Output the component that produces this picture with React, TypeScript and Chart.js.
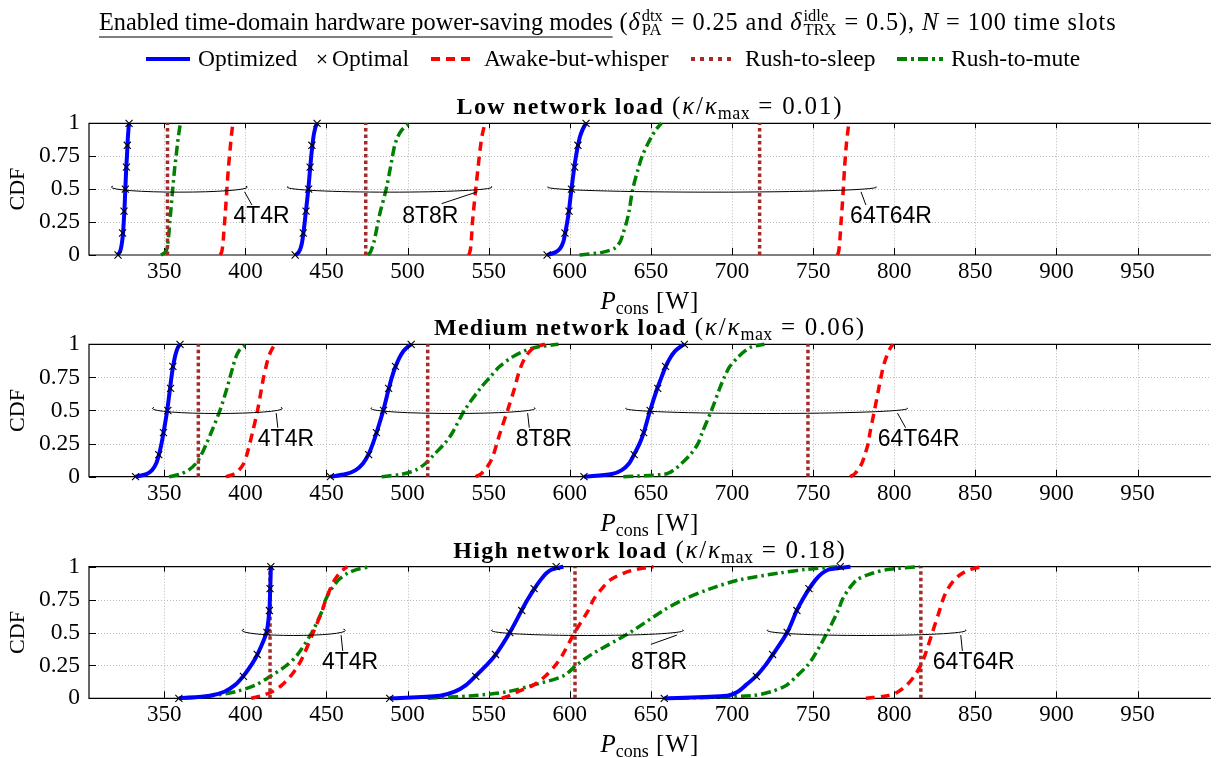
import React, { useEffect, useRef } from "react";
import { Chart, registerables } from "chart.js";

Chart.register(...registerables);

const SERIF = '"Liberation Serif", "Times New Roman", serif';
const SANS = '"Liberation Sans", Arial, sans-serif';

// ---------------- data ----------------
const X_TICKS = [350, 400, 450, 500, 550, 600, 650, 700, 750, 800, 850, 900, 950];
const Y_TICKS = [0, 0.25, 0.5, 0.75, 1];
const X_MIN = 303.6;
const X_MAX = 995.2;
const CONFIGS = ["4T4R", "8T8R", "64T64R"];
const CDF_LEVELS = [0, 0.02, 0.05, 0.1, 0.17, 0.25, 0.33, 0.5, 0.67, 0.75, 0.83, 0.9, 0.95, 0.98, 1];
const OPTIMAL_LEVELS = [0, 0.167, 0.333, 0.5, 0.667, 0.833, 1];

// Low network load
const LOW_4T4R_OPTIMIZED = [321, 322.5, 323.3, 324, 324.6, 325, 325.4, 326, 326.6, 327, 327.3, 327.6, 327.9, 328.1, 328.3];
const LOW_4T4R_OPTIMAL = [321.5, 324.3, 325.2, 326, 326.7, 327.2, 328.3];
const LOW_4T4R_WHISPER = [384.5, 385.3, 385.8, 386.3, 386.7, 387.2, 387.7, 388.6, 389.6, 390.2, 390.8, 391.3, 391.8, 392.1, 392.4];
const LOW_4T4R_MUTE = [348, 350.5, 351.7, 352.3, 352.9, 353.4, 354, 355.2, 356.5, 357.3, 358, 358.7, 359.3, 359.7, 360];
const LOW_8T8R_OPTIMIZED = [431, 432.8, 434, 435, 435.8, 436.6, 437.3, 438.8, 440, 440.6, 441.3, 442, 442.8, 443.5, 444.2];
const LOW_8T8R_OPTIMAL = [430.7, 435.7, 437.4, 439, 439.9, 441, 444.2];
const LOW_8T8R_WHISPER = [537.7, 538.3, 538.8, 539.2, 539.6, 540, 540.6, 542, 543.5, 544.2, 545, 545.8, 546.7, 547.3, 547.8];
const LOW_8T8R_MUTE = [475.5, 477, 478, 479.3, 480.5, 481.8, 483.2, 486.8, 489.5, 490.7, 492, 494, 496.5, 499, 501.5];
const LOW_64T64R_OPTIMIZED = [586, 591, 594, 596, 597.2, 598.4, 599.4, 601, 602.8, 603.8, 605, 606.3, 607.8, 609, 610];
const LOW_64T64R_OPTIMAL = [586, 597, 599.5, 601, 603, 605, 610];
const LOW_64T64R_WHISPER = [765, 765.6, 766, 766.4, 766.8, 767.2, 767.7, 768.6, 769.4, 769.9, 770.4, 771, 771.5, 771.8, 772];
const LOW_64T64R_MUTE = [606, 620, 627.5, 631, 633, 635, 636.5, 638.8, 642.5, 644.6, 647.5, 650.5, 653, 655, 656.5];
const LOW_SLEEP = [352, 474.2, 717];

// Medium network load
const MED_4T4R_OPTIMIZED = [332.3, 339, 342.5, 345, 346.8, 348.3, 349.5, 351.8, 353.6, 354.4, 355.4, 356.5, 357.6, 358.6, 359.7];
const MED_4T4R_OPTIMAL = [332.3, 346.6, 349.5, 352.2, 353.9, 355.3, 359.7];
const MED_4T4R_WHISPER = [388, 393, 396, 399, 401, 402.7, 404.3, 407.5, 410, 411.2, 412.7, 414.2, 415.8, 417.2, 418.4];
const MED_4T4R_MUTE = [353, 360, 365, 369.5, 373, 376, 378.8, 384.3, 388.7, 390.5, 392.3, 394, 396, 398.5, 401.5];
const MED_8T8R_OPTIMIZED = [452.4, 462, 468, 472.5, 476, 478.6, 480.8, 485, 488.5, 490.3, 492.5, 495, 497.5, 500, 502.2];
const MED_8T8R_OPTIMAL = [452.4, 476, 480.8, 485.2, 488.3, 492.5, 502.2];
const MED_8T8R_WHISPER = [542, 545, 547.5, 550.5, 553, 555, 557, 561.6, 566, 567.7, 569.8, 572.5, 575.5, 579, 584.7];
const MED_8T8R_MUTE = [484, 497, 505, 511, 516.5, 522.8, 527.5, 535, 545, 550.7, 556.5, 564, 572, 580, 593];
const MED_64T64R_OPTIMIZED = [608.7, 626, 632, 636.5, 639.7, 643, 645.5, 649.5, 654, 656.5, 659, 662, 665, 668, 670.6];
const MED_64T64R_OPTIMAL = [608.7, 639.7, 645.5, 649.5, 654.2, 659, 670.6];
const MED_64T64R_WHISPER = [772.8, 775.5, 777.5, 780, 782, 783.9, 785, 787.8, 790.5, 791.8, 793.2, 795, 796.7, 798, 799.2];
const MED_64T64R_MUTE = [633, 659, 664, 668.8, 674.5, 679, 681.5, 687.3, 692.5, 695.2, 698.5, 703.5, 708, 712, 720];
const MED_SLEEP = [371, 512.4, 746.8];

// High network load
const HIGH_4T4R_OPTIMIZED = [359, 378, 387, 393.5, 398.8, 403.5, 407.3, 413, 414.8, 415.1, 415.3, 415.5, 415.6, 415.7, 415.8];
const HIGH_4T4R_OPTIMAL = [359, 398.8, 407.3, 413.3, 414.8, 415.2, 415.7];
const HIGH_4T4R_WHISPER = [403.6, 410, 416.5, 422.5, 428, 432.6, 436, 441.8, 447.5, 449.5, 452.3, 455, 458, 460.5, 462.8];
const HIGH_4T4R_MUTE = [362.6, 379.5, 394, 406, 415.7, 425.4, 432, 441, 447.5, 449.5, 453, 457.5, 463, 469, 477.3];
const HIGH_8T8R_OPTIMIZED = [489, 520, 529, 536, 542, 548.5, 554.2, 563, 570.4, 574, 578, 582, 585.5, 589, 596];
const HIGH_8T8R_OPTIMAL = [489, 542, 554.2, 563, 570.4, 578, 591.6];
const HIGH_8T8R_WHISPER = [558, 563, 568, 577.5, 585, 591, 595.5, 603, 611.5, 614.6, 619.5, 625, 633, 641, 651.6];
const HIGH_8T8R_MUTE = [512.4, 540, 561.6, 577.3, 596, 604, 613, 637, 658, 670, 686, 704.5, 728.3, 746, 765];
const HIGH_64T64R_OPTIMIZED = [658.2, 697, 703.5, 708.5, 715, 720.5, 725, 734, 740, 743.5, 747.4, 751.5, 755.5, 760, 773];
const HIGH_64T64R_OPTIMAL = [658.2, 715, 725, 734, 740, 747.4, 766.7];
const HIGH_64T64R_WHISPER = [782.5, 795.8, 802.4, 807.7, 812.5, 816.3, 819, 823.5, 828, 830, 833, 837, 842, 847, 854];
const HIGH_64T64R_MUTE = [667.5, 712, 724, 733.6, 740, 746.5, 751, 758.7, 765.5, 768, 772, 777, 786.5, 797, 815.6];
const HIGH_SLEEP = [415.2, 603.2, 816.4];

const LOAD_NAMES = ["Low network load", "Medium network load", "High network load"];
const LOAD_KAPPA = ["0.01", "0.06", "0.18"];

// annotation rings (value coordinates)
interface Ring { span: [number, number]; leader: [number, number, number, number]; at: [number, number] }
const LOW_RINGS: Ring[] = [
  { span: [317.4, 401.2], leader: [399.5, 0.48, 404, 0.38], at: [410, 0.29] },
  { span: [425.8, 552], leader: [543, 0.48, 521, 0.39], at: [514, 0.29] },
  { span: [586.3, 789], leader: [779.5, 0.48, 782.5, 0.38], at: [798, 0.29] },
];
const MED_RINGS: Ring[] = [
  { span: [342.7, 422.8], leader: [419, 0.48, 420, 0.37], at: [425, 0.28] },
  { span: [477.4, 578.6], leader: [574, 0.48, 575, 0.37], at: [584, 0.28] },
  { span: [634.4, 808.2], leader: [802, 0.48, 807, 0.37], at: [815, 0.28] },
];
const HIGH_RINGS: Ring[] = [
  { span: [398, 461.6], leader: [459, 0.48, 460, 0.36], at: [464.5, 0.27] },
  { span: [551.7, 670], leader: [666, 0.48, 650, 0.41], at: [655, 0.27] },
  { span: [721.7, 844.2], leader: [841, 0.48, 842, 0.36], at: [849, 0.27] },
];

// ---------------- styles / layout ----------------
const BLUE = "#0000ff";
const RED = "#ff0000";
const BROWN = "#a52a2a";
const GREEN = "#008000";
const W = 1217;

interface Group { optimized: number[]; optimal: number[]; whisper: number[]; sleep: number; mute: number[] }
interface Panel { groups: Group[]; rings: Ring[] }

const PANELS: Panel[] = [
  {
    groups: [
      { optimized: LOW_4T4R_OPTIMIZED, optimal: LOW_4T4R_OPTIMAL, whisper: LOW_4T4R_WHISPER, sleep: LOW_SLEEP[0], mute: LOW_4T4R_MUTE },
      { optimized: LOW_8T8R_OPTIMIZED, optimal: LOW_8T8R_OPTIMAL, whisper: LOW_8T8R_WHISPER, sleep: LOW_SLEEP[1], mute: LOW_8T8R_MUTE },
      { optimized: LOW_64T64R_OPTIMIZED, optimal: LOW_64T64R_OPTIMAL, whisper: LOW_64T64R_WHISPER, sleep: LOW_SLEEP[2], mute: LOW_64T64R_MUTE },
    ],
    rings: LOW_RINGS,
  },
  {
    groups: [
      { optimized: MED_4T4R_OPTIMIZED, optimal: MED_4T4R_OPTIMAL, whisper: MED_4T4R_WHISPER, sleep: MED_SLEEP[0], mute: MED_4T4R_MUTE },
      { optimized: MED_8T8R_OPTIMIZED, optimal: MED_8T8R_OPTIMAL, whisper: MED_8T8R_WHISPER, sleep: MED_SLEEP[1], mute: MED_8T8R_MUTE },
      { optimized: MED_64T64R_OPTIMIZED, optimal: MED_64T64R_OPTIMAL, whisper: MED_64T64R_WHISPER, sleep: MED_SLEEP[2], mute: MED_64T64R_MUTE },
    ],
    rings: MED_RINGS,
  },
  {
    groups: [
      { optimized: HIGH_4T4R_OPTIMIZED, optimal: HIGH_4T4R_OPTIMAL, whisper: HIGH_4T4R_WHISPER, sleep: HIGH_SLEEP[0], mute: HIGH_4T4R_MUTE },
      { optimized: HIGH_8T8R_OPTIMIZED, optimal: HIGH_8T8R_OPTIMAL, whisper: HIGH_8T8R_WHISPER, sleep: HIGH_SLEEP[1], mute: HIGH_8T8R_MUTE },
      { optimized: HIGH_64T64R_OPTIMIZED, optimal: HIGH_64T64R_OPTIMAL, whisper: HIGH_64T64R_WHISPER, sleep: HIGH_SLEEP[2], mute: HIGH_64T64R_MUTE },
    ],
    rings: HIGH_RINGS,
  },
];

// canvases overlap (transparent), so text below each plot is never cut
const LAYOUT = [
  { top: 0, height: 332, areaTop: 123.3, axisHeight: 77 },
  { top: 312, height: 244, areaTop: 32.3, axisHeight: 79.3 },
  { top: 536, height: 222, areaTop: 30.7, axisHeight: 59.7 },
];

// ---------------- text helpers ----------------
type Seg = { t?: string; font: string; dy?: number; ls?: number; sup?: string; sub?: string; underline?: boolean };

function setLS(ctx: any, v: number) {
  if ("letterSpacing" in ctx) ctx.letterSpacing = v + "px";
}
function segW(ctx: CanvasRenderingContext2D, s: Seg) {
  ctx.font = s.font;
  setLS(ctx, s.ls || 0);
  if (s.sup !== undefined) return Math.max(ctx.measureText(s.sup).width, ctx.measureText(s.sub || "").width) + 2;
  return ctx.measureText(s.t || "").width;
}
function drawSegs(ctx: CanvasRenderingContext2D, segs: Seg[], x: number, y: number, align: "left" | "center") {
  const ws = segs.map((s) => segW(ctx, s));
  const total = ws.reduce((a, b) => a + b, 0);
  let cx = align === "center" ? x - total / 2 : x;
  ctx.textAlign = "left";
  ctx.textBaseline = "alphabetic";
  ctx.fillStyle = "#000";
  segs.forEach((s, i) => {
    ctx.font = s.font;
    setLS(ctx, s.ls || 0);
    if (s.sup !== undefined) {
      ctx.fillText(s.sup, cx + 1, y - 9);
      ctx.fillText(s.sub || "", cx + 1, y + 5);
    } else {
      ctx.fillText(s.t || "", cx, y + (s.dy || 0));
    }
    if (s.underline) {
      ctx.save();
      ctx.strokeStyle = "#000";
      ctx.lineWidth = 1.2;
      ctx.beginPath();
      ctx.moveTo(cx, y + 7);
      ctx.lineTo(cx + ws[i], y + 7);
      ctx.stroke();
      ctx.restore();
    }
    cx += ws[i];
  });
  setLS(ctx, 0);
}

const EQ = " = ";

function drawHeader(ctx: CanvasRenderingContext2D) {
  const R = `24.3px ${SERIF}`;
  const I = `italic 24.3px ${SERIF}`;
  const S = `16.5px ${SERIF}`;
  const L = 0.9;
  drawSegs(
    ctx,
    [
      { t: "Enabled time-domain hardware power-saving modes", font: R, underline: true },
      { t: " (", font: R, ls: L },
      { t: "δ", font: I, ls: L },
      { sup: "dtx", sub: "PA", font: S },
      { t: EQ + "0.25 and ", font: R, ls: L },
      { t: "δ", font: I, ls: L },
      { sup: "idle", sub: "TRX", font: S },
      { t: EQ + "0.5), ", font: R, ls: L },
      { t: "N", font: I, ls: L },
      { t: EQ + "100 time slots", font: R, ls: L },
    ],
    99,
    30,
    "left"
  );
  // legend
  const LF = `23.5px ${SERIF}`;
  const ly = 59;
  const base = 66;
  ctx.save();
  ctx.lineCap = "butt";
  const sample = (x0: number, x1: number, color: string, dash: number[], w: number) => {
    ctx.strokeStyle = color;
    ctx.lineWidth = w;
    ctx.setLineDash(dash);
    ctx.beginPath();
    ctx.moveTo(x0, ly);
    ctx.lineTo(x1, ly);
    ctx.stroke();
    ctx.setLineDash([]);
  };
  sample(146, 190, BLUE, [], 4);
  drawSegs(ctx, [{ t: "Optimized", font: LF }], 198, base, "left");
  ctx.strokeStyle = "#000";
  ctx.lineWidth = 1.1;
  ctx.beginPath();
  ctx.moveTo(318, ly - 4);
  ctx.lineTo(326, ly + 4);
  ctx.moveTo(326, ly - 4);
  ctx.lineTo(318, ly + 4);
  ctx.stroke();
  drawSegs(ctx, [{ t: "Optimal", font: LF }], 332, base, "left");
  sample(431, 471, RED, [9, 6], 4);
  drawSegs(ctx, [{ t: "Awake-but-whisper", font: LF }], 484, base, "left");
  sample(691, 735, BROWN, [4, 5], 4);
  drawSegs(ctx, [{ t: "Rush-to-sleep", font: LF }], 745, base, "left");
  sample(897, 943, GREEN, [10, 4, 3, 4], 4);
  drawSegs(ctx, [{ t: "Rush-to-mute", font: LF }], 951, base, "left");
  ctx.restore();
}

function makeDecor(idx: number) {
  const panel = PANELS[idx];
  return {
    id: "decor" + idx,
    beforeDatasetsDraw(chart: any) {
      const { ctx, chartArea: a, scales } = chart;
      const x = scales.x;
      const y = scales.y;
      ctx.save();
      // dotted grid
      ctx.strokeStyle = "#b8b8b8";
      ctx.lineWidth = 1;
      ctx.setLineDash([1, 2]);
      ctx.beginPath();
      for (const t of X_TICKS) {
        const px = Math.round(x.getPixelForValue(t)) + 0.5;
        ctx.moveTo(px, a.top);
        ctx.lineTo(px, a.bottom);
      }
      for (const t of Y_TICKS) {
        if (t === 0 || t === 1) continue;
        const py = Math.round(y.getPixelForValue(t)) + 0.5;
        ctx.moveTo(a.left, py);
        ctx.lineTo(a.right, py);
      }
      ctx.stroke();
      ctx.setLineDash([]);
      // frame
      ctx.strokeStyle = "#000";
      ctx.lineWidth = 1.2;
      ctx.beginPath();
      ctx.moveTo(a.right, a.top);
      ctx.lineTo(a.left, a.top);
      ctx.lineTo(a.left, a.bottom);
      ctx.lineTo(a.right, a.bottom);
      ctx.stroke();
      // tick marks
      ctx.lineWidth = 1;
      ctx.beginPath();
      for (const t of X_TICKS) {
        const px = Math.round(x.getPixelForValue(t)) + 0.5;
        ctx.moveTo(px, a.bottom);
        ctx.lineTo(px, a.bottom - 7);
        ctx.moveTo(px, a.top);
        ctx.lineTo(px, a.top + 5);
      }
      for (const t of Y_TICKS) {
        const py = Math.round(y.getPixelForValue(t)) + 0.5;
        ctx.moveTo(a.left, py);
        ctx.lineTo(a.left + 7, py);
      }
      ctx.stroke();
      ctx.restore();
    },
    afterDatasetsDraw(chart: any) {
      const { ctx, scales } = chart;
      const x = scales.x;
      const y = scales.y;
      ctx.save();
      ctx.strokeStyle = "#000";
      ctx.lineWidth = 1;
      panel.rings.forEach((r, i) => {
        const x0 = x.getPixelForValue(r.span[0]);
        const x1 = x.getPixelForValue(r.span[1]);
        const cx = (x0 + x1) / 2;
        const rx = (x1 - x0) / 2;
        const cy = y.getPixelForValue(0.5) - 2;
        const ry = 5;
        ctx.beginPath();
        ctx.ellipse(cx, cy, rx, ry, 0, 0, Math.PI);
        ctx.stroke();
        const k = Math.min(0.5, 14 / rx);
        ctx.beginPath();
        ctx.ellipse(cx, cy, rx, ry, 0, Math.PI, Math.PI + k);
        ctx.stroke();
        ctx.beginPath();
        ctx.ellipse(cx, cy, rx, ry, 0, 2 * Math.PI - k, 2 * Math.PI);
        ctx.stroke();
        ctx.beginPath();
        ctx.moveTo(x.getPixelForValue(r.leader[0]), y.getPixelForValue(r.leader[1]));
        ctx.lineTo(x.getPixelForValue(r.leader[2]), y.getPixelForValue(r.leader[3]));
        ctx.stroke();
        ctx.fillStyle = "#000";
        ctx.font = `23px ${SANS}`;
        ctx.textAlign = "center";
        ctx.textBaseline = "middle";
        ctx.fillText(CONFIGS[i], x.getPixelForValue(r.at[0]), y.getPixelForValue(r.at[1]));
      });
      ctx.restore();
    },
    afterDraw(chart: any) {
      const { ctx, chartArea: a } = chart;
      ctx.save();
      const mid = (a.left + a.right) / 2;
      const M = `25px ${SERIF}`;
      const MI = `italic 25px ${SERIF}`;
      // panel title
      drawSegs(
        ctx,
        [
          { t: LOAD_NAMES[idx], font: `bold 24px ${SERIF}`, ls: 1.3 },
          { t: " (", font: M, ls: 1.8 },
          { t: "κ", font: MI, ls: 1.8 },
          { t: "/", font: M, ls: 1.8 },
          { t: "κ", font: MI, ls: 1 },
          { t: "max", font: `18px ${SERIF}`, dy: 5, ls: 0.5 },
          { t: EQ + LOAD_KAPPA[idx] + ")", font: M, ls: 1.8 },
        ],
        mid,
        a.top - 9,
        "center"
      );
      // x-axis title
      drawSegs(
        ctx,
        [
          { t: "P", font: MI },
          { t: "cons", font: `18px ${SERIF}`, dy: 5 },
          { t: " [W]", font: M, ls: 1 },
        ],
        mid,
        a.bottom + 54,
        "center"
      );
      // y-axis title
      ctx.translate(18, (a.top + a.bottom) / 2);
      ctx.rotate(-Math.PI / 2);
      ctx.font = `22px ${SERIF}`;
      ctx.fillStyle = "#000";
      ctx.textAlign = "center";
      ctx.textBaseline = "middle";
      ctx.fillText("CDF", 0, 0);
      ctx.restore();
      if (idx === 0) {
        ctx.save();
        drawHeader(ctx);
        ctx.restore();
      }
    },
  };
}

const pts = (xs: number[], ys: number[]) => xs.map((v, i) => ({ x: v, y: ys[i] }));

function buildDatasets(panel: Panel) {
  const ds: any[] = [];
  const common = { fill: false, clip: false as any, pointRadius: 0, pointHoverRadius: 0 };
  panel.groups.forEach((g) => {
    ds.push({ ...common, label: "Rush-to-mute", data: pts(g.mute, CDF_LEVELS), borderColor: GREEN, borderWidth: 3.5, borderDash: [10, 4, 2.5, 4], tension: 0.3, order: 4 });
    ds.push({ ...common, label: "Awake-but-whisper", data: pts(g.whisper, CDF_LEVELS), borderColor: RED, borderWidth: 3.5, borderDash: [9, 6], tension: 0.3, order: 3 });
    ds.push({ ...common, label: "Rush-to-sleep", data: [{ x: g.sleep, y: 0 }, { x: g.sleep, y: 1 }], borderColor: BROWN, borderWidth: 3.5, borderDash: [3.5, 3], order: 2 });
    ds.push({ ...common, label: "Optimized", data: pts(g.optimized, CDF_LEVELS), borderColor: BLUE, borderWidth: 4, tension: 0.3, order: 1 });
    ds.push({
      ...common,
      label: "Optimal",
      data: pts(g.optimal, OPTIMAL_LEVELS),
      showLine: false,
      pointStyle: "crossRot",
      pointRadius: 5,
      pointBorderColor: "#000",
      pointBackgroundColor: "#000",
      pointBorderWidth: 1.1,
      borderColor: "#000",
      order: 0,
    });
  });
  return ds;
}

function PanelChart({ idx }: { idx: number }) {
  const ref = useRef<HTMLCanvasElement>(null);
  const lay = LAYOUT[idx];
  useEffect(() => {
    const canvas = ref.current!;
    const chart = new Chart(canvas, {
      type: "line",
      data: { datasets: buildDatasets(PANELS[idx]) },
      options: {
        animation: false,
        responsive: false,
        devicePixelRatio: 1,
        events: [],
        layout: { padding: { top: lay.areaTop, left: 0, right: 0, bottom: 0 } },
        plugins: { legend: { display: false }, title: { display: false }, tooltip: { enabled: false } },
        scales: {
          x: {
            type: "linear",
            min: X_MIN,
            max: X_MAX,
            afterBuildTicks: (s: any) => {
              s.ticks = X_TICKS.map((v) => ({ value: v }));
            },
            afterFit: (s: any) => {
              s.height = lay.axisHeight;
            },
            grid: { display: false, drawTicks: false },
            border: { display: false },
            ticks: {
              color: "#000",
              font: { family: SERIF, size: 23 },
              padding: 3,
              maxRotation: 0,
              autoSkip: false,
              callback: (v: any) => String(v),
            },
          },
          y: {
            type: "linear",
            min: 0,
            max: 1,
            afterBuildTicks: (s: any) => {
              s.ticks = Y_TICKS.map((v) => ({ value: v }));
            },
            afterFit: (s: any) => {
              s.width = 89;
            },
            grid: { display: false, drawTicks: false },
            border: { display: false },
            ticks: {
              color: "#000",
              font: { family: SERIF, size: 23.5 },
              padding: 9,
              autoSkip: false,
              callback: (v: any) => String(v),
            },
          },
        },
      } as any,
      plugins: [makeDecor(idx) as any],
    });
    return () => chart.destroy();
  }, []);
  return (
    <div style={{ position: "absolute", left: 0, top: lay.top, width: W, height: lay.height }}>
      <canvas ref={ref} width={W} height={lay.height} style={{ display: "block", width: W, height: lay.height }} />
    </div>
  );
}

export default function App() {
  return (
    <div style={{ position: "fixed", left: 0, top: 0, width: W, height: 758, background: "#fff", overflow: "hidden" }}>
      <PanelChart idx={0} />
      <PanelChart idx={1} />
      <PanelChart idx={2} />
    </div>
  );
}
